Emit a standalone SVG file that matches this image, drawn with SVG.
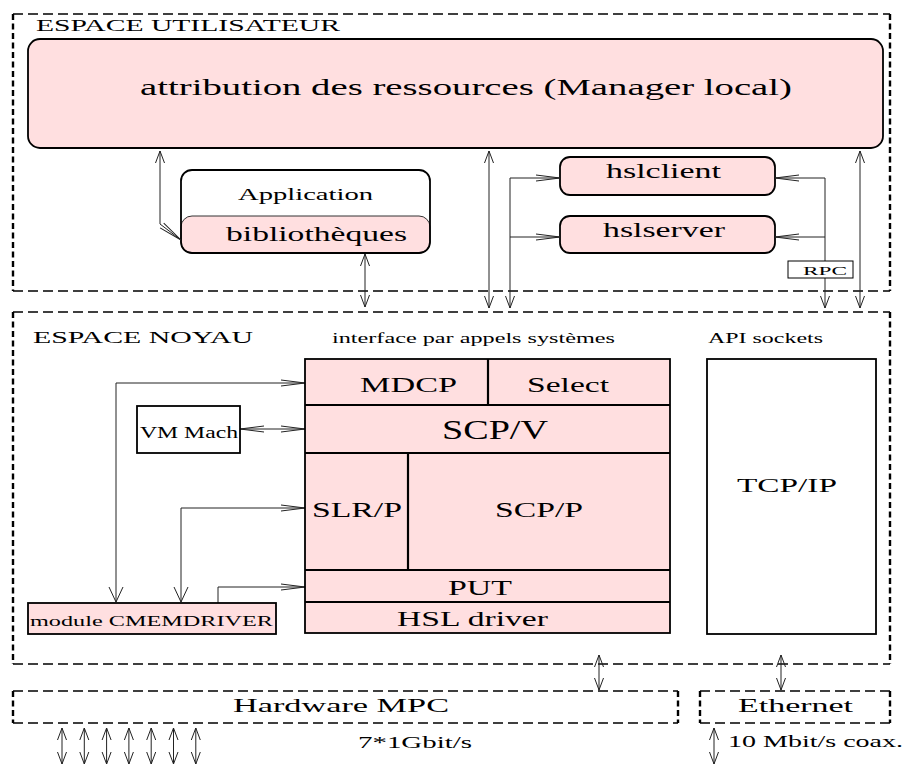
<svg xmlns="http://www.w3.org/2000/svg" width="905" height="765" viewBox="0 0 905 765" font-family="'Liberation Serif', serif">
<style>
text{font-family:'Liberation Serif',serif;fill:#000}
.dh{stroke:#000;stroke-width:1.3;stroke-dasharray:10 5;fill:none}
.dv{stroke:#000;stroke-width:2.4;stroke-dasharray:6 3.5;fill:none}
.pk{fill:#ffdfe0;stroke:#000;stroke-width:1.8}
.wh{fill:#fff;stroke:#000;stroke-width:1.8}
.sep{stroke:#000;stroke-width:2.2;fill:none}
.c{fill:none;stroke:#222;stroke-width:1}
.mk{fill:none;stroke:#222;stroke-width:1}
</style>
<defs>
<marker id="ah" viewBox="-26 -5 28 10" refX="0" refY="0" markerWidth="28" markerHeight="10" markerUnits="userSpaceOnUse" orient="auto-start-reverse"><path class="mk" d="M-24,-3 L0,0 L-24,3"/></marker>
<marker id="av" viewBox="-14 -7 16 14" refX="0" refY="0" markerWidth="16" markerHeight="14" markerUnits="userSpaceOnUse" orient="auto-start-reverse"><path class="mk" d="M-12,-4.5 L0,0 L-12,4.5"/></marker>
<marker id="avL" viewBox="-17 -9 19 18" refX="0" refY="0" markerWidth="19" markerHeight="18" markerUnits="userSpaceOnUse" orient="auto-start-reverse"><path class="mk" d="M-15,-7 L0,0 L-15,7"/></marker>
</defs>

<g id="espace-utilisateur">
<line class="dh" x1="13" y1="14" x2="890" y2="14"/>
<line class="dh" x1="13" y1="291" x2="890" y2="291"/>
<line class="dv" x1="13" y1="14" x2="13" y2="291"/>
<line class="dv" x1="890" y1="14" x2="890" y2="291"/>
<text x="36" y="31" font-size="17" textLength="304" lengthAdjust="spacingAndGlyphs">ESPACE UTILISATEUR</text>
</g>

<g id="espace-noyau">
<line class="dh" x1="13" y1="312" x2="890" y2="312"/>
<line class="dh" x1="13" y1="664" x2="890" y2="664"/>
<line class="dv" x1="13" y1="312" x2="13" y2="664"/>
<line class="dv" x1="890" y1="312" x2="890" y2="664"/>
<text x="33" y="343" font-size="17" textLength="220" lengthAdjust="spacingAndGlyphs">ESPACE NOYAU</text>
<text x="332" y="343" font-size="14" textLength="283" lengthAdjust="spacingAndGlyphs">interface par appels systèmes</text>
<text x="708" y="343" font-size="14" textLength="115" lengthAdjust="spacingAndGlyphs">API sockets</text>
</g>

<g id="hardware-mpc">
<line class="dh" x1="13" y1="691" x2="678" y2="691"/>
<line class="dh" x1="13" y1="723" x2="678" y2="723"/>
<line class="dv" x1="13" y1="691" x2="13" y2="723"/>
<line class="dv" x1="678" y1="691" x2="678" y2="723"/>
<text x="233" y="712" font-size="19" textLength="216" lengthAdjust="spacingAndGlyphs">Hardware MPC</text>
</g>

<g id="ethernet">
<line class="dh" x1="700" y1="691" x2="890" y2="691"/>
<line class="dh" x1="700" y1="723" x2="890" y2="723"/>
<line class="dv" x1="700" y1="691" x2="700" y2="723"/>
<line class="dv" x1="890" y1="691" x2="890" y2="723"/>
<text x="738" y="712" font-size="19" textLength="115" lengthAdjust="spacingAndGlyphs">Ethernet</text>
</g>

<g id="attribution">
<rect class="pk" x="28" y="39" width="855" height="109" rx="12"/>
<text x="140" y="95" font-size="24" textLength="652" lengthAdjust="spacingAndGlyphs">attribution des ressources (Manager local)</text>
</g>

<g id="application">
<rect x="181" y="170" width="249" height="83" rx="11" fill="#fff" stroke="none"/>
<rect x="181" y="216" width="249" height="37" rx="11" fill="#ffdfe0" stroke="#333" stroke-width="1"/>
<rect x="181" y="170" width="249" height="83" rx="11" fill="none" stroke="#000" stroke-width="1.8"/>
<text x="238" y="200" font-size="17" textLength="135" lengthAdjust="spacingAndGlyphs">Application</text>
<text x="226" y="241" font-size="20" textLength="181" lengthAdjust="spacingAndGlyphs">bibliothèques</text>
</g>

<g id="hslclient">
<rect class="pk" x="560" y="157" width="215" height="38" rx="10"/>
<text x="606" y="178" font-size="20" textLength="115" lengthAdjust="spacingAndGlyphs">hslclient</text>
</g>

<g id="hslserver">
<rect class="pk" x="560" y="216" width="215" height="37" rx="10"/>
<text x="603" y="237" font-size="20" textLength="122" lengthAdjust="spacingAndGlyphs">hslserver</text>
</g>

<g id="connectors">
<polyline class="c" points="160,151 160,224 181,240" marker-start="url(#av)" marker-end="url(#ah)"/>
<line class="c" x1="365" y1="254" x2="365" y2="307" marker-start="url(#av)" marker-end="url(#av)"/>
<line class="c" x1="489" y1="151" x2="489" y2="308" marker-start="url(#av)" marker-end="url(#av)"/>
<line class="c" x1="510" y1="178" x2="510" y2="308" marker-end="url(#av)"/>
<line class="c" x1="510" y1="178" x2="560" y2="178" marker-end="url(#ah)"/>
<line class="c" x1="510" y1="237" x2="560" y2="237" marker-end="url(#ah)"/>
<line class="c" x1="825" y1="178" x2="825" y2="308" marker-end="url(#av)"/>
<line class="c" x1="825" y1="178" x2="775" y2="178" marker-end="url(#ah)"/>
<line class="c" x1="825" y1="237" x2="775" y2="237" marker-end="url(#ah)"/>
<line class="c" x1="860" y1="151" x2="860" y2="308" marker-start="url(#av)" marker-end="url(#av)"/>
<polyline class="c" points="305,383 116,383 116,602" marker-start="url(#ah)" marker-end="url(#avL)"/>
<polyline class="c" points="305,508 181,508 181,602" marker-start="url(#ah)" marker-end="url(#avL)"/>
<polyline class="c" points="218,603 218,587 305,587" marker-end="url(#ah)"/>
<line class="c" x1="240" y1="429" x2="305" y2="429" marker-start="url(#ah)" marker-end="url(#ah)"/>
<line class="c" x1="599" y1="655" x2="599" y2="690" marker-start="url(#av)" marker-end="url(#av)"/>
<line class="c" x1="781" y1="655" x2="781" y2="690" marker-start="url(#av)" marker-end="url(#av)"/>
<line class="c" x1="62" y1="728" x2="62" y2="764" marker-start="url(#av)" marker-end="url(#av)"/>
<line class="c" x1="84.3" y1="728" x2="84.3" y2="764" marker-start="url(#av)" marker-end="url(#av)"/>
<line class="c" x1="106.6" y1="728" x2="106.6" y2="764" marker-start="url(#av)" marker-end="url(#av)"/>
<line class="c" x1="128.9" y1="728" x2="128.9" y2="764" marker-start="url(#av)" marker-end="url(#av)"/>
<line class="c" x1="151.2" y1="728" x2="151.2" y2="764" marker-start="url(#av)" marker-end="url(#av)"/>
<line class="c" x1="173.5" y1="728" x2="173.5" y2="764" marker-start="url(#av)" marker-end="url(#av)"/>
<line class="c" x1="195.8" y1="728" x2="195.8" y2="764" marker-start="url(#av)" marker-end="url(#av)"/>
<line class="c" x1="714" y1="728" x2="714" y2="764" marker-start="url(#av)" marker-end="url(#av)"/>
</g>

<g id="rpc">
<rect x="788" y="261" width="65" height="17" fill="#fff" stroke="#000" stroke-width="1"/>
<text x="803" y="275" font-size="12" textLength="44" lengthAdjust="spacingAndGlyphs">RPC</text>
</g>

<g id="stack">
<rect class="pk" x="305" y="359" width="365" height="274" stroke-width="2.2"/>
<line class="sep" x1="305" y1="405" x2="670" y2="405"/>
<line class="sep" x1="305" y1="453" x2="670" y2="453"/>
<line class="sep" x1="305" y1="570" x2="670" y2="570"/>
<line class="sep" x1="305" y1="602" x2="670" y2="602"/>
<line class="sep" x1="488" y1="359" x2="488" y2="405"/>
<line class="sep" x1="408" y1="453" x2="408" y2="570"/>
</g>
<g id="mdcp"><text x="360" y="392" font-size="22" textLength="97" lengthAdjust="spacingAndGlyphs">MDCP</text></g>
<g id="select"><text x="527" y="392" font-size="22" textLength="82" lengthAdjust="spacingAndGlyphs">Select</text></g>
<g id="scpv"><text x="442" y="439" font-size="28" textLength="106" lengthAdjust="spacingAndGlyphs">SCP/V</text></g>
<g id="slrp"><text x="312" y="517" font-size="22" textLength="90" lengthAdjust="spacingAndGlyphs">SLR/P</text></g>
<g id="scpp"><text x="495" y="517" font-size="22" textLength="88" lengthAdjust="spacingAndGlyphs">SCP/P</text></g>
<g id="put"><text x="448" y="595" font-size="20" textLength="64" lengthAdjust="spacingAndGlyphs">PUT</text></g>
<g id="hsl-driver"><text x="397" y="626" font-size="20" textLength="151" lengthAdjust="spacingAndGlyphs">HSL driver</text></g>

<g id="tcpip">
<rect class="wh" x="707" y="359" width="169" height="275"/>
<text x="737" y="492" font-size="19" textLength="100" lengthAdjust="spacingAndGlyphs">TCP/IP</text>
</g>

<g id="vm-mach">
<rect class="wh" x="137" y="406" width="103" height="47"/>
<text x="140" y="438" font-size="16" textLength="98" lengthAdjust="spacingAndGlyphs">VM Mach</text>
</g>

<g id="cmemdriver">
<rect class="pk" x="28" y="603" width="248" height="31"/>
<text x="30" y="626" font-size="14" textLength="243" lengthAdjust="spacingAndGlyphs">module CMEMDRIVER</text>
</g>

<g id="labels">
<text x="358" y="748" font-size="16" textLength="114" lengthAdjust="spacingAndGlyphs">7*1Gbit/s</text>
<text x="728" y="747" font-size="16" textLength="175" lengthAdjust="spacingAndGlyphs">10 Mbit/s coax.</text>
</g>
</svg>
